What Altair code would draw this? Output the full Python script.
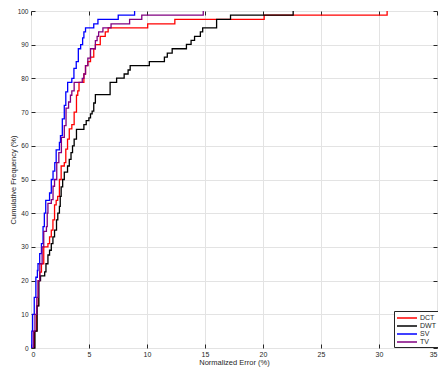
import altair as alt
import pandas as pd

series_names = ["DCT", "DWT", "SV", "TV"]
series_colors = ["#ff0000", "#000000", "#0000ff", "#800080"]

# step points (error %, cumulative frequency %)
dct_x = [0.15, 0.29, 0.48, 0.62, 0.76, 0.9, 1.1, 1.46, 1.6, 1.75, 1.89, 2.03, 2.17, 2.3, 2.45, 2.6, 2.87,
         3.0, 3.15, 3.3, 3.52, 3.72, 3.92, 4.03, 4.14, 4.56, 4.7, 4.9, 5.13, 5.41, 5.55, 5.97, 6.4, 6.65,
         10.06, 12.4, 20.1, 30.7]
dct_y = [0, 5, 12.5, 20, 22.5, 25, 30, 31, 33, 35, 38, 42.5, 43.8, 45, 50, 54, 55,
         59, 62, 65, 66.3, 70, 75, 76.3, 78.8, 81.3, 83.8, 85, 86.3, 88.8, 90, 92.5, 93.8, 95,
         96.2, 97.5, 98.8, 100]

dwt_x = [0.2, 0.34, 0.53, 0.68, 0.82, 1.18, 1.29, 1.46, 1.6, 1.75, 1.89, 2.03, 2.2, 2.31, 2.45, 2.52,
         2.6, 2.73, 2.87, 3.15, 3.3, 3.45, 3.58, 3.72, 3.92, 4.56, 4.76, 4.99, 5.13, 5.27, 5.41, 5.55,
         6.82, 7.38, 8.03, 8.37, 8.55, 10.2, 11.5, 11.75, 12.17, 13.4, 13.8, 14.1, 14.6, 14.8, 16.0,
         17.2, 22.6]
dwt_y = [0, 5, 12.5, 20, 21.4, 22.6, 25, 27.6, 29, 31, 33, 35, 38, 40, 42, 45,
         47.8, 50, 52.2, 54, 56, 58, 60, 62, 64.9, 66.3, 67.5, 68.3, 69.5, 70.3, 72.7, 75.2,
         78.8, 80.1, 81.3, 82.5, 83.8, 85, 86.3, 87.5, 88.8, 90.1, 91.3, 92.5, 93.8, 95, 97.5,
         98.8, 100]

sv_x = [0.0, 0.07, 0.14, 0.28, 0.42, 0.55, 0.6, 0.75, 0.9, 1.04, 1.15, 1.27, 1.6, 1.75, 1.9, 2.05,
        2.17, 2.45, 2.54, 2.7, 2.87, 3.0, 3.16, 3.52, 3.7, 3.9, 4.08, 4.28, 4.45, 4.56, 4.7, 5.41,
        5.77, 7.52, 8.93]
sv_y = [0, 5, 10, 15, 21, 23, 25, 28, 31, 36, 40, 43.8, 46, 50, 52.5, 55,
        58.8, 61, 63, 68, 72, 76, 78.8, 80, 83, 85, 88.8, 90, 92, 93.8, 95, 96.2,
        97.5, 98.8, 100]

tv_x = [0.1, 0.2, 0.34, 0.5, 0.62, 0.76, 0.96, 1.1, 1.33, 1.4, 1.46, 1.75, 1.9, 2.03, 2.22, 2.4,
        2.62, 2.87, 3.02, 3.24, 3.4, 3.52, 3.72, 4.42, 4.56, 4.7, 4.9, 5.13, 5.55, 5.7, 5.83, 6.2,
        6.9, 8.5, 9.55, 14.85]
tv_y = [0, 5, 10, 15, 20, 25, 30, 34.6, 36, 40, 42.9, 44, 48, 50, 55, 58,
        62.5, 66, 71.2, 73, 75, 76.3, 78.8, 80, 81.3, 83.8, 86, 88.8, 91.2, 92.5, 93.8, 95,
        96.2, 97.5, 98.8, 100]

x_ticks = [0, 5, 10, 15, 20, 25, 30, 35]
y_ticks = [0, 10, 20, 30, 40, 50, 60, 70, 80, 90, 100]

rows = []
for name, xs, ys in [("DCT", dct_x, dct_y), ("DWT", dwt_x, dwt_y), ("SV", sv_x, sv_y), ("TV", tv_x, tv_y)]:
    for i, (xv, yv) in enumerate(zip(xs, ys)):
        rows.append({"series": name, "err": xv, "freq": yv, "idx": i})
df = pd.DataFrame(rows)

FONT = "Liberation Sans"
AX = "#262626"
W, H = 406, 337
xscale = alt.Scale(domain=[0, 35], nice=False, zero=False)
yscale = alt.Scale(domain=[0, 100], nice=False, zero=False)

lines = alt.Chart(df).mark_line(interpolate="step-after", strokeWidth=1.3, clip=True).encode(
    x=alt.X("err:Q", scale=xscale, axis=alt.Axis(
        values=x_ticks, title="Normalized Error (%)", grid=True, gridColor="#e3e3e3",
        tickSize=0, domain=False, labelFontSize=7, labelColor=AX, labelPadding=2,
        titleFontSize=7.5, titleFontWeight="normal", titleColor=AX, titlePadding=1,
        labelFont=FONT, titleFont=FONT)),
    y=alt.Y("freq:Q", scale=yscale, axis=alt.Axis(
        values=y_ticks, title="Cumulative Frequency (%)", grid=True, gridColor="#e3e3e3",
        tickSize=0, domain=False, labelFontSize=6.5, labelColor=AX, labelPadding=3,
        titleFontSize=7.5, titleFontWeight="normal", titleColor=AX,
        titleX=-22, titleY=H / 2, titleAngle=270, titleAlign="center", titleBaseline="top",
        labelFont=FONT, titleFont=FONT)),
    color=alt.Color("series:N", scale=alt.Scale(domain=series_names, range=series_colors),
                    legend=alt.Legend(orient="none", legendX=W - 43, legendY=H - 37, title=None,
                                      symbolType="M-2.5,0L2.5,0", symbolSize=64, symbolStrokeWidth=1.5,
                                      symbolOffset=6, labelFontSize=7, labelFont=FONT, labelColor=AX,
                                      strokeColor=AX, fillColor="white", padding=2,
                                      rowPadding=0, labelOffset=8)),
    order="idx:Q",
)

ticks_a = alt.Chart(df).mark_point(opacity=0).encode(
    x=alt.X("err:Q", scale=xscale, axis=alt.Axis(orient="bottom", offset=-4, tickSize=4, values=x_ticks,
                                                 domain=False, labels=False, grid=False, title=None, tickColor=AX)),
    y=alt.Y("freq:Q", scale=yscale, axis=alt.Axis(orient="left", offset=-4, tickSize=4, values=y_ticks,
                                                  domain=False, labels=False, grid=False, title=None, tickColor=AX)),
)
ticks_b = alt.Chart(df).mark_point(opacity=0).encode(
    x=alt.X("err:Q", scale=xscale, axis=alt.Axis(orient="top", offset=-4, tickSize=4, values=x_ticks,
                                                 domain=False, labels=False, grid=False, title=None, tickColor=AX)),
    y=alt.Y("freq:Q", scale=yscale, axis=alt.Axis(orient="right", offset=-4, tickSize=4, values=y_ticks,
                                                  domain=False, labels=False, grid=False, title=None, tickColor=AX)),
)

chart = alt.layer(lines, ticks_a, ticks_b).resolve_axis(x="independent", y="independent").properties(
    width=W, height=H,
    autosize=alt.AutoSizeParams(type="none"),
    padding={"left": 23, "top": 3, "right": 1, "bottom": 22},
).configure_view(stroke=AX, strokeWidth=1.2).configure(background="white")

chart.save("out.html", embed_options={"renderer": "svg", "actions": False})
